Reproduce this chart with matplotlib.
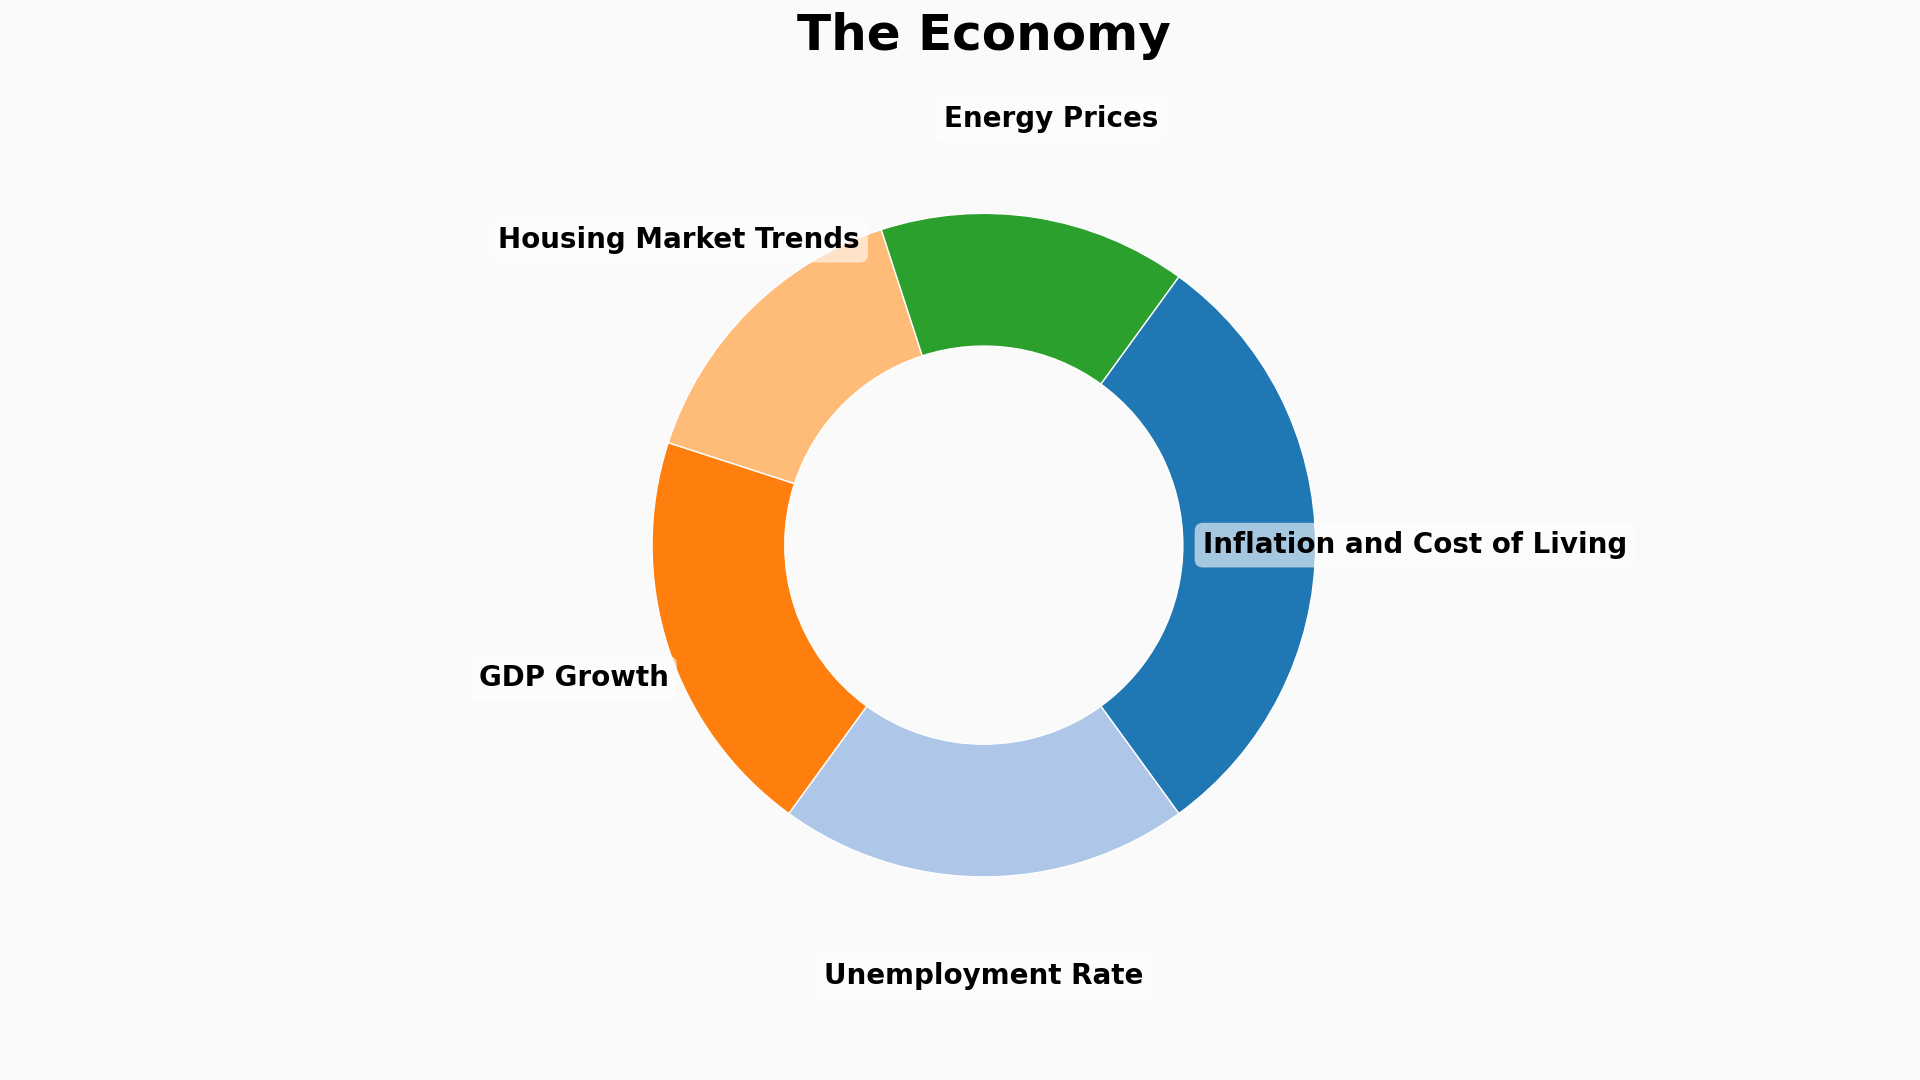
import numpy as np
import matplotlib
matplotlib.use('Agg')
import matplotlib.pyplot as plt

categories = ['Inflation and Cost of Living', 'Unemployment Rate', 'GDP Growth',
              'Housing Market Trends', 'Energy Prices']
values = [30, 20, 20, 15, 15]
colors = [plt.cm.tab20(i) for i in range(len(categories))]

fig = plt.figure(figsize=(19.2, 10.8), dpi=100, facecolor='#fafafa')
ax = fig.add_axes([0.2964, 0.111, 0.432, 0.7685])
ax.set_facecolor('#fafafa')

wedges, _ = ax.pie(values, colors=colors, startangle=54, counterclock=False,
                   wedgeprops=dict(width=0.4, edgecolor='white', linewidth=1))

# labels centred at 1.3 x radius
for w, lab in zip(wedges, categories):
    ang = np.deg2rad((w.theta1 + w.theta2) / 2)
    ax.text(1.3 * np.cos(ang), 1.3 * np.sin(ang), lab, ha='center', va='center',
            fontsize=20, fontweight='bold',
            bbox=dict(boxstyle='round,pad=0.3', facecolor='white', edgecolor='none', alpha=0.6))

ax.set_title('The Economy', fontsize=36, fontweight='bold', pad=58)
ax.set_aspect('equal')

fig.savefig('out.png', dpi=100, facecolor=fig.get_facecolor())
